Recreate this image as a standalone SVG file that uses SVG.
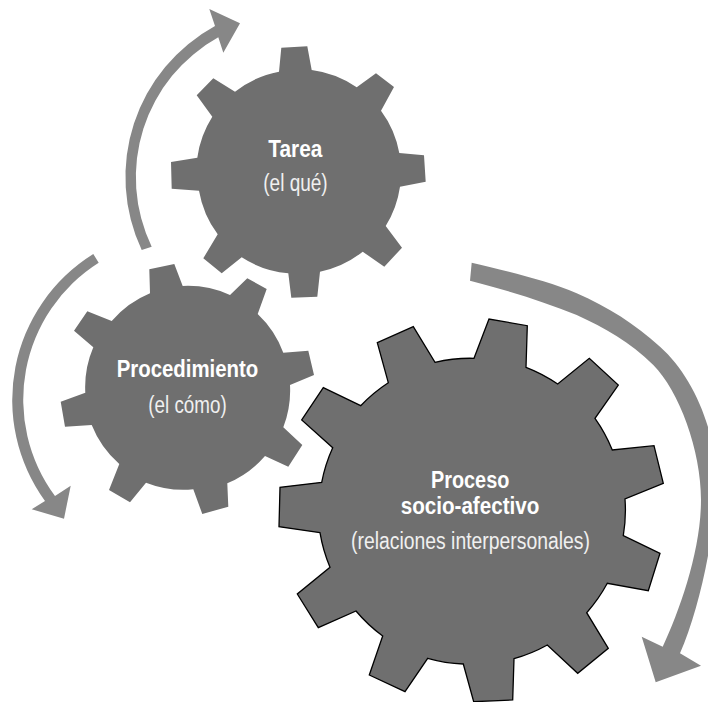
<svg xmlns="http://www.w3.org/2000/svg" width="708" height="702" viewBox="0 0 708 702">
<style>
.gear{fill:#6f6f6f}
.arrow{fill:#878787}
text{font-family:"Liberation Sans",Arial,sans-serif;fill:#fff;font-size:23px}
.b{font-weight:700}
.r{fill:#f0f0f0}
</style>
<rect width="708" height="702" fill="#fff"/>
<g id="connectors">
<path class="arrow" d="M141.7,250A172,172 0 0 1 215,26L209.3,9L240,23.3L223.3,52.7L218.3,37.3A160,160 0 0 0 151.7,246.7Z"/>
<path class="arrow" d="M93.3,254A172,172 0 0 0 45,501L31.7,509.3L64,518.7L70.7,485.7L55,496A162,162 0 0 1 98.7,262.7Z"/>
<path class="arrow" d="M471.7,262.7C500,269.5 545,279.5 576.7,293.3C608,307 635,324 660,346.7C693,376 716,430 716,480C716,530 700,608 680,653.3L701,665.7L655.7,682.3L641.7,636.7L662.7,646.7C680,610 701,550 701,500C701,450 679,391 653.3,365C630,342 605,328 576.7,315C545,302 510,291 470,280.7Z"/>
</g>
<g id="tarea">
<path class="gear" d="M279,71.7L281.3,47.7L307.3,46.3L311.7,70A102,102 0 0 1 356.7,87.3L376,73.3L394,87L381,110.7A102,102 0 0 1 399.3,153L424,155.3L425.7,181.7L400,186.7A102,102 0 0 1 385.7,226L402,247.7L384.3,266.7L362.7,251.7A102,102 0 0 1 320,271.7L317.3,296.7L291.3,297.7L288.3,273.3A102,102 0 0 1 241.7,257.3L221.7,273.3L203.3,258.3L217.7,234.3A102,102 0 0 1 199,190.7L171.7,188.7L171,162L197.3,157.7A102,102 0 0 1 212.3,116.7L196.7,95.3L213.3,78.3L235,91.7A102,102 0 0 1 279,71.7Z"/>
<text class="b" x="268.3" y="156.7" textLength="54" lengthAdjust="spacingAndGlyphs">Tarea</text>
<text class="r" x="263.3" y="191" textLength="64.4" lengthAdjust="spacingAndGlyphs">(el qué)</text>
</g>
<g id="procedimiento">
<path class="gear" d="M150,293.3L149.3,269.3L174.3,264L182.7,286A102,102 0 0 1 230,295L247.3,278.3L266.7,289L257.7,314A102,102 0 0 1 283.3,352.7L308.3,350.7L314,375L290,385A102,102 0 0 1 283.3,427.3L302.3,445L288.3,466.7L265,456A102,102 0 0 1 227.3,483.3L228.3,506.7L202.3,514L193.3,489.3A102,102 0 0 1 146,482.7L130,502.3L109,490L119.3,464A102,102 0 0 1 91.7,425L65,426.7L60.7,401.7L85.3,392.7A102,102 0 0 1 93.3,347.3L74,330.7L87.3,311.3L111.7,321A102,102 0 0 1 150,293.3Z"/>
<text class="b" x="116.7" y="376.7" textLength="141.6" lengthAdjust="spacingAndGlyphs">Procedimiento</text>
<text class="r" x="148.3" y="412.7" textLength="78.4" lengthAdjust="spacingAndGlyphs">(el cómo)</text>
</g>
<g id="proceso">
<path class="gear" stroke="#000" stroke-width="1.3" stroke-linejoin="miter" d="M320,532.7L279,526.7L280,487.3L321.7,482.3A153.5,153.5 0 0 1 332.7,447.7L301.7,420L323.3,387.7L360.7,405.7A153.5,153.5 0 0 1 388.3,382.7L377.3,342.7L413.3,326.7L435,362.3A153.5,153.5 0 0 1 474,358.3L489,319L527.3,325.7L526,367.3A153.5,153.5 0 0 1 557.7,384L589.3,358.3L618.3,385L595,418.3A153.5,153.5 0 0 1 612.3,450L654,445.7L663.3,483.3L625,499A153.5,153.5 0 0 1 623.3,535.7L660,553.3L648.3,590.7L607.3,583.3A153.5,153.5 0 0 1 586.7,612.7L608.3,648.3L577.7,673.3L547.3,645A153.5,153.5 0 0 1 514,658.7L512.7,700L473.7,701.7L463.3,664A153.5,153.5 0 0 1 427.7,658.3L405,691.7L369.3,675L382.7,636A153.5,153.5 0 0 1 356,611L318.3,627.7L297.3,594L330,567.3A153.5,153.5 0 0 1 320,532.7Z"/>
<text class="b" x="431" y="487.7" textLength="78.3" lengthAdjust="spacingAndGlyphs">Proceso</text>
<text class="b" x="400.7" y="514.3" textLength="138.6" lengthAdjust="spacingAndGlyphs">socio-afectivo</text>
<text class="r" x="351" y="548.7" textLength="239" lengthAdjust="spacingAndGlyphs">(relaciones interpersonales)</text>
</g>
</svg>
